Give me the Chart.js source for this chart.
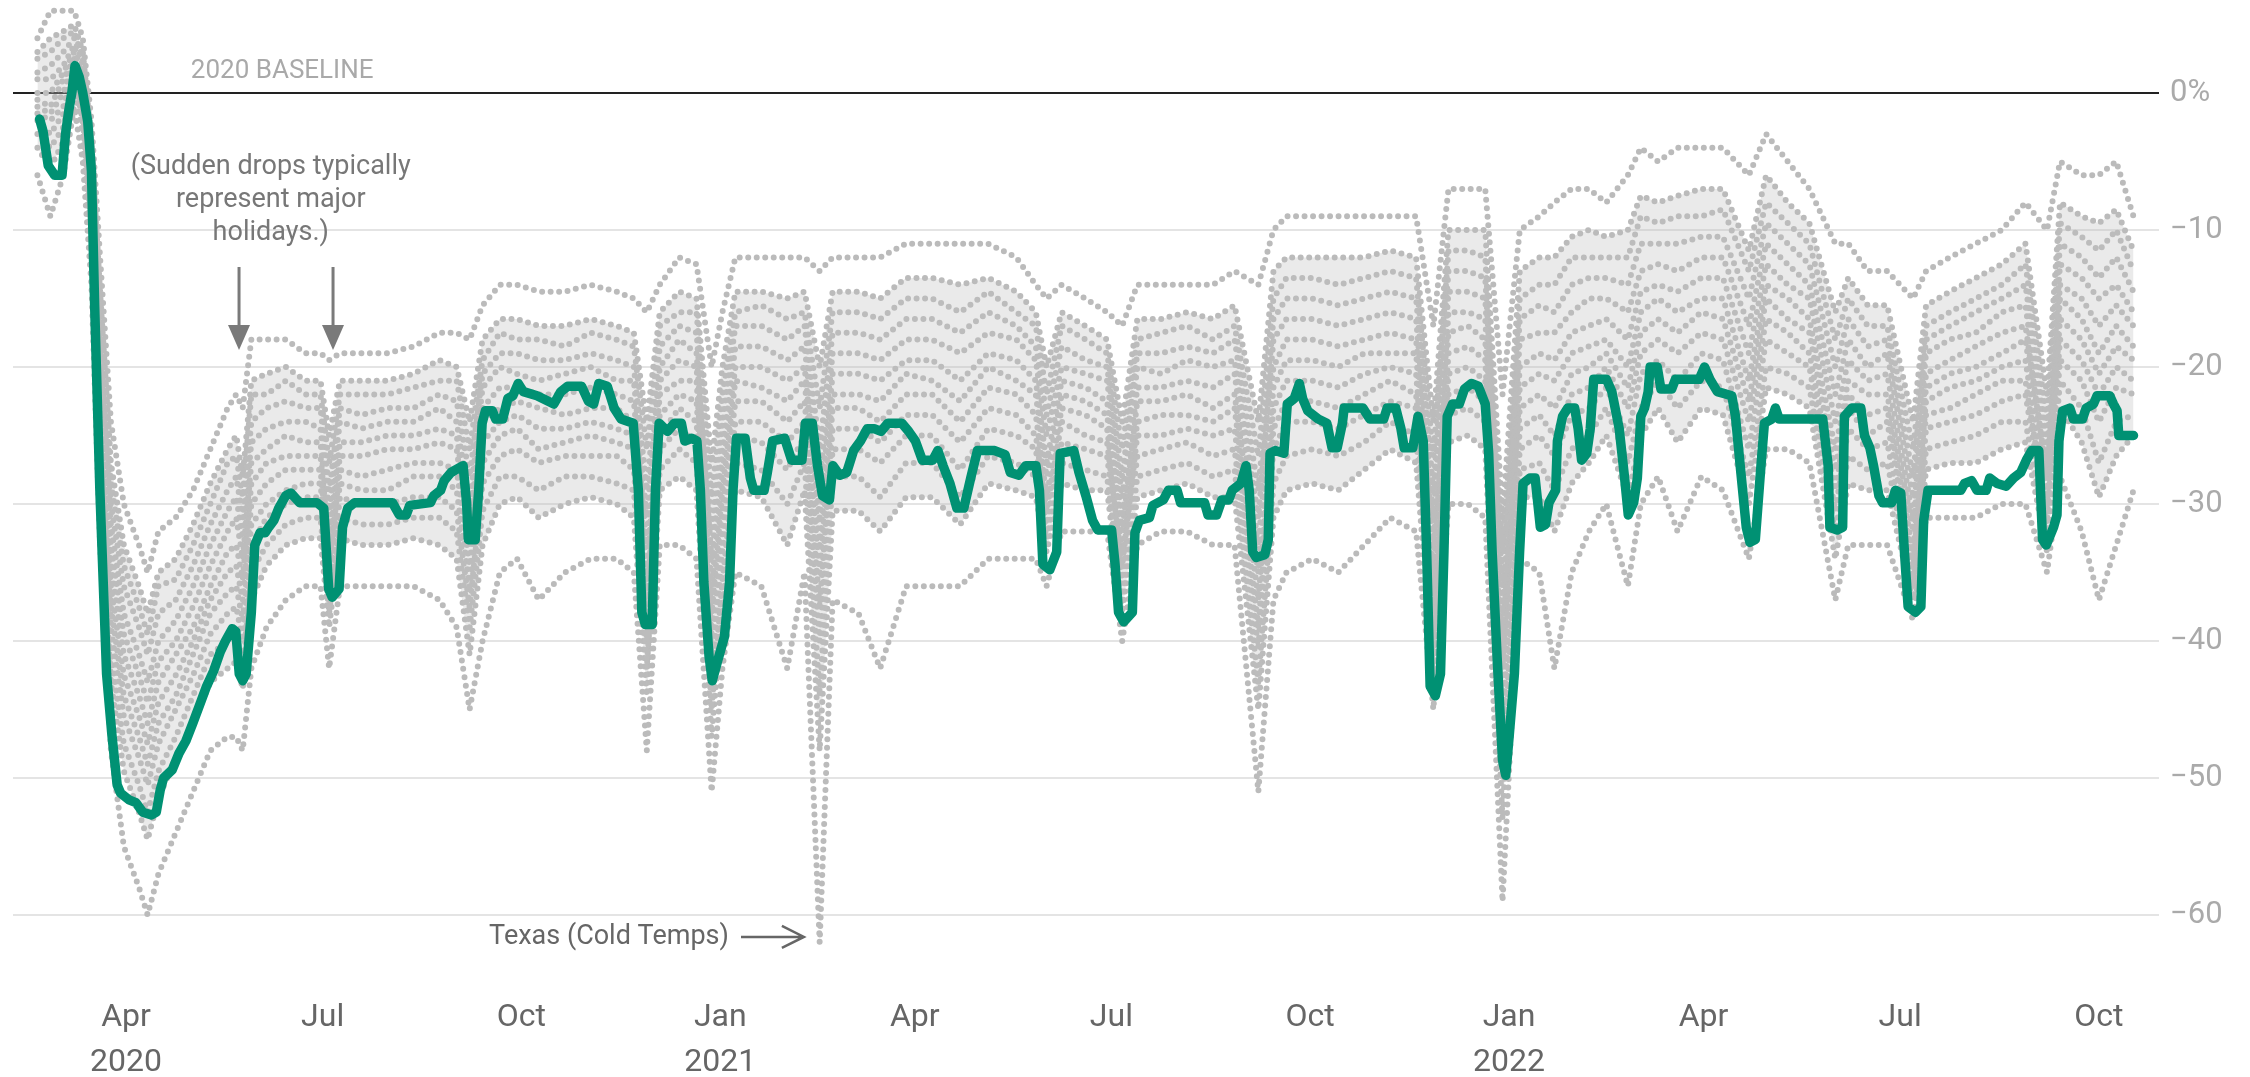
<!DOCTYPE html>
<html>
<head>
<meta charset="utf-8">
<script src="https://cdn.jsdelivr.net/npm/chart.js@4.4.1/dist/chart.umd.min.js"></script>
<style>
  html, body { margin: 0; padding: 0; background: #fff; }
  #wrap { width: 2250px; height: 1077px; position: relative; }
</style>
</head>
<body>
<div id="wrap"><canvas id="chart"></canvas></div>
<script>
// ─── DATA ───────────────────────────────────────────────────────────
// x values are days since 2020-01-01 (Apr 1 2020 = 91)
const xTickDays = [91, 182, 274, 366, 456, 547, 639, 731, 821, 912, 1004];
const xTickLabels = [['Apr', '2020'], 'Jul', 'Oct', ['Jan', '2021'], 'Apr', 'Jul', 'Oct', ['Jan', '2022'], 'Apr', 'Jul', 'Oct'];
const yTicks = [0, -10, -20, -30, -40, -50, -60];

// national line (green)
const greenDays = [51,52.6,55,58,61.4,63,64.5,66,67.4,69.3,71,73.3,75,76.5,78.9,82,84.5,86.9,88.5,92.4,95.6,98.8,102.8,105,106.8,108.4,112.4,115.5,118.7,121.9,125,128.3,131.5,134.6,137,140.2,141.8,143.4,145,146.6,149,150.6,153,155.4,157,159.4,161.7,164.9,167.3,171.3,179.3,182.5,184.8,186.4,189.6,191.2,193.6,196.8,214.3,217.5,220.7,222.3,231.9,233.4,236.6,238.2,241.4,247,248.6,249.4,252.6,254.2,255.8,257.3,260.5,262.1,265.3,267.7,270,272.5,274.9,281.2,289,292.2,295.4,301.8,305,307.4,309.8,313.7,316.9,320.1,325.7,328.1,329.7,331.3,334.5,336,337.7,341.6,344.8,348,349.6,352.8,355.2,356.8,358.4,360.8,362.3,364.7,367.9,370.3,371.9,373.5,377.5,379.9,381.5,386.3,387.8,390.2,395.8,399,403.8,405.4,408.6,411,413.3,416.5,418.1,421.3,424.5,427.7,430.9,434,437.2,440.4,443.6,450,453.2,456.3,459.5,464.3,466.7,469.1,472.3,475.5,478.7,481.9,485,493,497.8,500.2,504.2,507.4,512.1,513.7,515.3,518.5,521.7,523.3,529.6,532,535.2,538.3,540.7,547.1,548.7,550.3,552.7,556.7,557.9,559.9,564.6,566.2,571,573.4,577.4,579,590.1,591.7,595.7,598.1,601.3,602.9,606.9,609.3,610.8,612.4,614,618,619.6,620.4,622.8,626.8,628.4,631.6,634,635.5,637.9,642.7,646.7,649.1,651.5,653.9,654.7,663.4,666.6,673,674.6,678.6,681,682.5,686.5,688.9,691.3,692.9,694.5,696.9,699.3,700.9,702.4,704.9,708,710.4,713.6,716.8,720,721.6,723.2,725.6,728,729.5,731.1,733.5,735.9,737.5,740.7,743.1,745.5,747.9,749.5,752.6,753.4,755.8,758.2,761.4,763,764.6,767,768.6,770.2,776.1,778.6,782,784.5,786.2,788.7,790.4,792,793.7,795.4,796.3,799.6,801.3,806.3,808,819,821.5,824,827.4,834.1,835.8,838.3,840.8,842.5,845,847.6,849.2,852.6,854.3,856,876.2,878.7,879.5,882.9,885.4,886.2,889.6,893.8,895.5,898,899.7,902.2,903.9,908.1,909.8,912.3,914,915.7,919.1,921.6,922.9,924.9,940.1,941.8,945.1,947.6,951.8,953.5,956.9,961.1,964.5,967.8,970.4,972.9,976.2,977.9,979.6,983,984.6,985.5,987.2,990.5,992.2,996.4,998.1,1001.5,1003.1,1009,1010.7,1012.4,1013.2,1020];
const greenVals = [-1.9,-2.8,-5.3,-6,-6,-3,-1.3,0.1,2,1.2,0,-2.1,-5.7,-15.6,-29,-42.4,-46.9,-50.5,-51.1,-51.6,-51.8,-52.5,-52.7,-52.5,-50.9,-50,-49.4,-48.2,-47.3,-46,-44.7,-43.3,-42.2,-40.8,-40,-39.1,-39.3,-42.4,-42.9,-42.4,-37.9,-33,-32.1,-32.1,-31.7,-31.2,-30.3,-29.4,-29.2,-29.9,-29.9,-30.3,-36.2,-36.8,-36.2,-31.7,-30.3,-29.9,-29.9,-30.8,-30.8,-30.1,-29.9,-29.4,-29,-28.3,-27.7,-27.2,-29.9,-32.6,-32.6,-29,-24.1,-23.2,-23.2,-23.8,-23.8,-22.3,-22.1,-21.2,-21.8,-22.1,-22.7,-21.8,-21.4,-21.4,-22.5,-22.7,-21.2,-21.4,-23,-23.8,-24.1,-29,-37.9,-38.8,-38.8,-29,-24.1,-24.7,-24.1,-24.1,-25.4,-25.2,-25.4,-29,-35.7,-41.1,-42.9,-41.5,-39.7,-35.7,-29,-25.2,-25.2,-28.1,-29,-29,-27.7,-25.4,-25.2,-26.8,-26.8,-24.1,-24.1,-27.2,-29.4,-29.7,-27.2,-27.9,-27.7,-26.1,-25.4,-24.5,-24.5,-24.7,-24.1,-24.1,-24.7,-25.4,-26.8,-26.8,-26.1,-27.2,-28.5,-30.3,-30.3,-28.1,-26.1,-26.1,-26.4,-27.7,-27.9,-27.2,-27.2,-29,-34.4,-34.8,-33.5,-26.3,-26.1,-27.7,-29.4,-31.2,-31.9,-31.9,-34.4,-37.9,-38.6,-37.9,-32.1,-31.2,-31,-30.1,-29.7,-29,-29,-29.9,-29.9,-30.8,-30.8,-29.7,-29.7,-29,-28.5,-27.2,-29,-33.5,-33.9,-33.7,-32.6,-26.3,-26.1,-26.3,-22.7,-22.3,-21.2,-22.3,-23.2,-23.8,-24.1,-25.9,-25.9,-24.1,-23,-23,-23.8,-23.8,-23,-23,-24.5,-25.9,-25.9,-23.6,-25.4,-33.5,-43.3,-44,-42.4,-33.5,-23.6,-22.7,-22.7,-21.6,-21.2,-21.4,-22.7,-26.3,-33.5,-41.5,-48.7,-49.8,-46.9,-42.4,-33.5,-28.5,-28.1,-28.1,-31.7,-31.5,-29.9,-29,-25.4,-23.6,-23,-23,-24.5,-26.8,-26.3,-24.5,-20.9,-20.9,-21.8,-24.5,-28.1,-30.8,-29.9,-28.1,-23.6,-23,-21.8,-20,-20,-21.6,-21.6,-20.9,-20.9,-20,-20.9,-21.8,-22.1,-23.6,-27.7,-31.7,-32.8,-32.6,-27.2,-24.1,-23.8,-23,-23.8,-23.8,-27.2,-31.7,-31.9,-31.7,-23.6,-23,-23,-25,-25.9,-27.2,-29.4,-29.9,-29.9,-29,-29.2,-33.5,-37.5,-37.9,-37.5,-31.2,-29,-29,-28.5,-28.3,-29,-29,-28.1,-28.5,-28.7,-28.1,-27.7,-26.8,-26.1,-26.1,-32.6,-33,-31.7,-30.8,-25.4,-23.2,-23,-23.8,-23.8,-23,-22.7,-22.1,-22.1,-22.7,-23.2,-25,-25];

// state lines (grey), from the top of the spread down to the bottom
const greyDays = [50,56,62,67,71,75,79,84,90,97,101,106,114,122,130,138,142,145,149,156,165,174,181,185,190,200,212,224,236,244,250,256,264,272,282,294,306,318,326,332,338,347,355,362,367,373,385,397,405,412,418,430,440,452,464,477,490,503,512,517,524,535,545,552,559,570,582,594,604,615,622,628,640,652,664,676,688,696,703,712,720,728,736,745,752,760,768,776,786,792,800,809,820,830,842,850,860,870,882,888,897,906,918,924,935,947,959,970,980,986,996,1004,1012,1020];
const greyA = [4,6,6,6,4,-2,-12,-24,-30,-33, -35,-32,-31,-29,-26,-23,-22,-23,-18,-18, -18,-19,-19,-19.5,-19,-19,-19,-18.5,-17.5,-17.5, -18,-15.5,-14,-14,-14.5,-14.5,-14,-14.5,-15,-16, -14,-12,-12.5,-20,-16,-12,-12,-12,-12,-13, -12,-12,-12,-11,-11,-11,-11,-12,-14,-15, -14,-15,-16,-17,-14,-14,-14,-14,-13,-14, -10,-9,-9,-9,-9,-9,-9,-17,-7,-7, -7,-22,-10,-9,-8,-7,-7,-8,-6,-4, -5,-4,-4,-4,-6,-3,-5,-7,-11,-11, -13,-13,-15,-13,-12,-11,-10,-8,-10,-5, -6,-6,-5,-9];
const greyB = [3,4,4.5,5,3,-3.5,-14.5,-27,-33,-36, -38,-35,-34,-31.5,-28.5,-26,-25,-28,-21,-20.5, -20,-21,-21,-25,-21,-21,-21,-20.5,-19.5,-20, -24,-18,-16.5,-16.5,-17,-17,-16.5,-17,-17.5,-24, -16,-14.5,-15,-27,-20,-14.5,-14.5,-15,-14.5,-20, -14.5,-14.5,-15,-13.5,-13.5,-14,-13.5,-14.5,-16,-20, -16,-17,-18,-24,-16.5,-16.5,-16,-16.5,-15.5,-24, -13,-12,-12,-12,-12,-11.5,-12,-24,-10,-10, -10,-31,-13,-12,-12,-10.5,-10,-10.5,-10,-7.5, -8,-7.5,-7,-7,-11.5,-6,-8,-9.5,-16,-13.5, -15.5,-15.5,-24,-15.5,-14.5,-13.5,-12.5,-11,-22,-8, -9,-9.5,-8.5,-11.5];
const greyBC = [2.5,3,4,4.5,2.5,-4,-16,-28.5,-34.5,-37.5, -39.5,-36,-35.5,-33,-30,-27,-26.5,-29.5,-22,-22, -21,-22,-22,-27,-22,-22,-22,-21.5,-21,-21, -26,-19.5,-17.5,-18,-18,-18.5,-17.5,-18,-18.5,-26, -17,-16,-16,-29.5,-22,-16,-15.5,-16.5,-16,-23, -16,-16,-16.5,-15,-15,-16,-14.5,-16,-17,-22, -17,-18,-19,-26,-18,-17.5,-17,-18,-17,-26.5, -15,-13.5,-13.5,-14,-13.5,-13,-13.5,-26.5,-11.5,-11.5, -12,-33.5,-15,-14,-14,-12,-12,-12,-12,-9, -9.5,-9,-9,-8.5,-13,-8,-9.5,-11,-18,-15, -17,-17,-26,-17,-16,-15,-14,-12.5,-24,-9.5, -10.5,-11.5,-10,-13];
const greyC = [1.5,2,3,4,2,-5,-17,-30,-36,-39, -41,-38,-37,-34.5,-31.5,-29,-28,-31,-24,-23, -22.5,-23,-23,-29,-23,-23.5,-23,-23,-22,-22.5, -28,-20.5,-19,-19,-19.5,-19.5,-19,-19.5,-20,-29, -18.5,-17,-17.5,-32,-24,-17,-17,-18,-17,-26, -17.5,-17.5,-18,-16.5,-16.5,-17.5,-16,-17,-18.5,-23.5, -18.5,-19.5,-20,-28,-19,-19,-18.5,-19,-18,-29, -16.5,-15,-15,-15.5,-15,-14.5,-15,-29,-13,-13, -13.5,-36,-16.5,-15.5,-16,-14,-13.5,-13.5,-14,-11, -11,-11,-10.5,-10.5,-15,-9.5,-11,-12.5,-20,-16.5, -18.5,-18,-28,-18,-17,-16,-15,-14,-25.5,-11, -12,-13.5,-12,-14.5];
const greyCD = [1,1,2,3.5,1,-6,-18.5,-31.5,-38,-41, -43,-40,-38.5,-36,-33,-30.5,-29.5,-32.5,-25.5,-24.5, -24,-24,-24.5,-30.5,-24,-24.5,-24,-24,-23,-24, -30,-21.5,-20,-20.5,-21,-20.5,-20,-21,-21,-31, -20,-18,-19,-34,-26,-18.5,-18.5,-19.5,-18.5,-28.5, -19,-19,-19.5,-18,-18,-19,-17.5,-18,-19.5,-25, -20,-20.5,-21,-29.5,-20,-20.5,-19.5,-20,-19.5,-31, -18,-16.5,-16.5,-17,-16.5,-16,-16.5,-31,-14.5,-14.5, -15,-38,-18,-17.5,-17.5,-16,-15,-15,-16,-13, -12.5,-13,-12,-12,-17,-11,-12.5,-14,-22,-18, -20,-19,-29.5,-19,-18,-17.5,-16,-15.5,-27,-12.5, -13.5,-15,-14,-16];
const greyD = [0,0,1.5,3,0.5,-6.5,-20,-33,-39.5,-42.5, -44.5,-41.5,-40,-37.5,-34.5,-32,-31,-34,-27,-26, -25,-25.5,-25.5,-32,-25.5,-25.5,-25,-25,-24.5,-25, -31.5,-23,-21.5,-21.5,-22,-22,-21.5,-22,-22.5,-33, -21,-19.5,-20,-36,-27.5,-20,-20,-21,-20,-31, -20.5,-20.5,-21,-19.5,-19.5,-21,-19,-19.5,-21,-27, -21,-21.5,-22.5,-31,-21.5,-21.5,-21,-21.5,-20.5,-33, -20,-18,-18,-18.5,-18,-17.5,-18,-33,-16,-16, -16.5,-40,-20,-19,-19.5,-17.5,-17,-16.5,-18,-14.5, -14,-14.5,-13.5,-13.5,-19,-12.5,-14,-15,-24,-19.5, -21,-20.5,-31,-20.5,-19.5,-18.5,-17.5,-17,-28,-14, -15,-17,-15.5,-17];
const greyDE = [-0.5,-1,1,2.5,0,-7,-21,-34.5,-41,-44, -46,-43,-41,-39,-36,-33.5,-33,-35.5,-28.5,-27, -26.5,-26.5,-26.5,-33,-26.5,-26.5,-26,-26,-25.5,-26, -33,-24,-23,-22.5,-23,-23.5,-23,-23,-24,-35, -22,-21,-21,-38,-29,-21,-21.5,-22.5,-21,-33, -22,-22,-22.5,-20.5,-21,-22.5,-20,-21,-22,-28, -22,-22.5,-23.5,-32,-22.5,-22.5,-22,-23,-22,-35, -21.5,-19.5,-19.5,-20,-19,-19,-19,-35,-17.5,-17, -18,-42,-21.5,-20.5,-21,-19,-18.5,-18,-20,-16, -15,-16,-15,-15,-21,-14,-15,-16.5,-26,-21, -22,-22,-32,-21.5,-20.5,-20,-19,-18,-29,-15, -16.5,-19,-17,-18.5];
const greyE = [-1,-1.5,0,2.5,-0.5,-8,-22.5,-36,-42.5,-45.5, -47.5,-44.5,-42.5,-40,-37,-35,-34.5,-37,-30,-28.5, -27.5,-27.5,-27.5,-34.5,-27.5,-28,-27.5,-27,-27,-27.5, -34.5,-25.5,-24,-23.5,-24.5,-24.5,-24,-24.5,-25,-37, -23.5,-22,-22.5,-39.5,-30.5,-22.5,-22.5,-24,-22.5,-35, -23,-23,-24,-22,-22,-24,-21.5,-22,-23.5,-29.5, -23,-23.5,-24.5,-33.5,-24,-23.5,-23.5,-24,-23,-37, -23,-21,-21,-21.5,-20.5,-20,-20.5,-36.5,-19,-18.5, -19.5,-44,-23,-22,-23,-20.5,-20,-19,-21.5,-17.5, -16.5,-17.5,-16,-16.5,-22.5,-15,-16.5,-17.5,-27.5,-22, -23.5,-23,-33.5,-22.5,-21.5,-21,-20,-19.5,-30,-16.5, -18,-20.5,-18.5,-19.5];
const greyEF = [-1.5,-2,-1,2,-1,-9,-24,-37.5,-44,-47, -49,-46,-44,-41,-38,-36.5,-36,-38.5,-31.5,-30, -29,-28.5,-28.5,-35.5,-28.5,-29,-29,-28,-28,-29, -36,-27,-25,-24.5,-26,-25.5,-25,-25.5,-26,-38.5, -25,-23,-24,-41,-32,-24,-24,-25.5,-24,-37.5, -24.5,-24.5,-25.5,-23.5,-23.5,-25.5,-23,-23.5,-25,-30.5, -24,-25,-25.5,-34.5,-25,-25,-24.5,-25,-24.5,-39, -24.5,-22.5,-22.5,-23,-22,-21,-22,-38,-20.5,-20, -21,-46,-24.5,-23.5,-25,-22,-21.5,-20,-23,-19, -18,-19,-17.5,-18,-24,-16.5,-17.5,-19,-29,-23, -25,-24,-34.5,-23.5,-23,-22,-21,-21,-31,-18, -19.5,-22,-20,-21];
const greyF = [-2,-3,-1.5,1.5,-1.5,-9.5,-25,-39,-45.5,-48.5, -50.5,-47.5,-45,-42.5,-39.5,-38,-37.5,-40,-33,-31, -30,-29.5,-29.5,-36.5,-29.5,-30,-30,-29.5,-29.5,-30.5, -37.5,-28.5,-26.5,-26,-27,-26.5,-26.5,-26.5,-27.5,-40, -26,-24.5,-25.5,-43,-33.5,-25,-25.5,-27.5,-25,-40, -26,-26,-27,-25,-25,-27.5,-24.5,-25,-26,-31.5, -25.5,-26,-26.5,-35.5,-26.5,-26,-25.5,-26.5,-26,-40.5, -26,-24,-24,-24.5,-23.5,-22.5,-23,-39.5,-22,-21.5, -22.5,-48,-26,-25,-26.5,-23.5,-23,-21.5,-25,-20.5, -19.5,-21,-19,-19.5,-26,-18,-19,-20,-30.5,-24.5, -26,-25.5,-35.5,-24.5,-24,-23.5,-22.5,-22,-31.5,-19.5, -21,-24,-21.5,-22];
const greyFG = [-3,-4,-2.5,1,-2,-10.5,-27,-41,-47.5,-50.5, -52.5,-49.5,-47,-44,-41,-40,-39.5,-42,-35,-33, -31.5,-31,-31,-38,-31,-31.5,-31.5,-31,-31,-32, -39,-30.5,-28,-28,-29,-28,-28,-28.5,-29,-42, -27.5,-26,-27,-45,-35.5,-27,-27.5,-30,-27,-44, -28,-28,-29.5,-27,-27,-29.5,-26.5,-27,-28,-32.5, -27,-27.5,-28,-37,-28,-27.5,-27,-28,-27.5,-43, -28.5,-26.5,-26,-26.5,-25.5,-24,-25,-41,-23.5,-23, -24,-50,-27.5,-27,-29,-26,-25,-23,-27,-23, -21,-23,-21,-21.5,-28,-20,-20.5,-21.5,-32,-26.5, -27.5,-27,-36,-26,-25.5,-25,-24,-24,-32.5,-21, -23,-27,-24,-23.5];
const greyG = [-4,-5.5,-3.5,0.5,-3,-11.5,-28.5,-43,-49.5,-52.5, -54.5,-51.5,-48.5,-46,-43,-42,-41.5,-43.5,-37,-34.5, -33,-32.5,-32.5,-39,-32.5,-33,-33,-32.5,-33,-34, -41,-33,-30,-29.5,-31,-30,-29.5,-30,-31,-44, -29,-28,-29,-47,-37.5,-29,-29.5,-33,-29,-48, -30.5,-30.5,-32,-29.5,-29.5,-31.5,-28.5,-29,-29.5,-33.5, -28.5,-29,-29,-38,-29.5,-29,-28.5,-29.5,-29.5,-45, -31,-29,-28.5,-29,-27.5,-26,-27,-42.5,-25.5,-25, -26,-53,-29.5,-29.5,-32,-28.5,-27,-25,-29.5,-25, -23,-25.5,-23,-23.5,-30,-21.5,-22,-23,-34,-28.5, -29,-29,-37,-27.5,-27,-27,-26,-25.5,-33.5,-23, -25.5,-29.5,-26.5,-25];
const greyH = [-6,-9,-6,-1,-5,-14,-33,-48,-55,-58, -60,-57,-54,-51,-48,-47,-47,-48,-42,-39, -37,-36,-36,-42,-36,-36,-36,-36,-37,-39, -45,-40,-35,-34,-37,-35,-34,-34,-35,-48, -33,-33,-34,-51,-42,-35,-36,-42,-35,-62, -37,-38,-42,-36,-36,-36,-34,-34,-34,-36, -32,-32,-32,-40,-33,-32,-32,-33,-33,-51, -37,-35,-34,-35,-33,-31,-32,-45,-30,-30, -31,-59,-34,-35,-42,-35,-32,-30,-36,-30, -28,-32,-28,-29,-34,-26,-26,-27,-37,-33, -33,-33,-38.5,-31,-31,-31,-30,-30,-35,-28, -32,-37,-33,-29];
const greySeries = [greyA, greyB, greyBC, greyC, greyCD, greyD, greyDE, greyE, greyEF, greyF, greyFG, greyG, greyH];

// ─── CHART ──────────────────────────────────────────────────────────
const GREEN = '#009173';
const GREY = '#bbbbbb';
const GREY_HAZE = 'rgba(190,190,190,0.32)';

const toPoints = (days, vals) => days.map((d, i) => ({ x: d, y: vals[i] }));

const notesPlugin = {
  id: 'notes',
  afterDraw(chart) {
    const { ctx, scales: { x, y } } = chart;
    ctx.save();
    ctx.textBaseline = 'middle';

    // baseline label
    ctx.font = '26px Roboto';
    ctx.fillStyle = '#a9a9a9';
    ctx.textAlign = 'left';
    ctx.fillText('2020 BASELINE', x.getPixelForValue(121), y.getPixelForValue(1.6));

    // holiday note
    ctx.font = '27px Roboto';
    ctx.fillStyle = '#777';
    ctx.textAlign = 'center';
    const nx = x.getPixelForValue(158);
    const ny = y.getPixelForValue(-5.4);
    ['(Sudden drops typically', 'represent major', 'holidays.)'].forEach((t, i) => ctx.fillText(t, nx, ny + i * 33));

    // down arrows
    ctx.strokeStyle = '#7a7a7a';
    ctx.fillStyle = '#7a7a7a';
    ctx.lineWidth = 3;
    [143.3, 186.8].forEach(d => {
      const ax = x.getPixelForValue(d);
      const y0 = y.getPixelForValue(-12.7);
      const y1 = y.getPixelForValue(-18.76);
      ctx.beginPath();
      ctx.moveTo(ax, y0);
      ctx.lineTo(ax, y1 - 20);
      ctx.stroke();
      ctx.beginPath();
      ctx.moveTo(ax - 11, y1 - 25);
      ctx.lineTo(ax + 11, y1 - 25);
      ctx.lineTo(ax, y1);
      ctx.closePath();
      ctx.fill();
    });

    // Texas note
    ctx.font = '27px Roboto';
    ctx.fillStyle = '#666';
    ctx.textAlign = 'right';
    const ty = y.getPixelForValue(-61.6);
    ctx.fillText('Texas (Cold Temps)', x.getPixelForValue(370), ty);
    const tx0 = x.getPixelForValue(375.6);
    const tx1 = x.getPixelForValue(404.7);
    ctx.strokeStyle = '#666';
    ctx.lineWidth = 2.5;
    ctx.beginPath();
    ctx.moveTo(tx0, ty);
    ctx.lineTo(tx1, ty);
    ctx.moveTo(tx1 - 22, ty - 11);
    ctx.lineTo(tx1, ty);
    ctx.lineTo(tx1 - 22, ty + 11);
    ctx.stroke();
    ctx.restore();
  }
};

function draw() {
  Chart.defaults.font.family = 'Roboto';

  // index 0 is the green line, grey lines follow from index 1
  const hazeFrom = greySeries.indexOf(greyB) + 1;
  const hazeTo = greySeries.indexOf(greyG) + 1;

  const datasets = [{
    data: toPoints(greenDays, greenVals),
    borderColor: GREEN,
    borderWidth: 9.5,
    borderJoinStyle: 'round',
    borderCapStyle: 'round',
    pointRadius: 0,
    tension: 0,
    fill: false,
    order: 0
  }].concat(greySeries.map((vals, i) => ({
    data: toPoints(greyDays, vals),
    borderColor: GREY,
    borderWidth: 6,
    borderDash: [0, 8.5],
    borderCapStyle: 'round',
    pointRadius: 0,
    tension: 0,
    fill: i + 1 === hazeFrom ? hazeTo : false,
    backgroundColor: GREY_HAZE,
    order: 1
  })));

  new Chart(document.getElementById('chart'), {
    type: 'line',
    data: { datasets },
    options: {
      responsive: true,
      maintainAspectRatio: false,
      animation: false,
      layout: { padding: { left: 13, right: 0, top: 0, bottom: 0 } },
      plugins: { legend: { display: false }, tooltip: { enabled: false } },
      scales: {
        x: {
          type: 'linear',
          min: 38.7,
          max: 1031.8,
          grid: { display: false, drawTicks: false },
          border: { display: false },
          afterBuildTicks: s => { s.ticks = xTickDays.map(v => ({ value: v })); },
          afterFit: s => { s.height = 112; s.paddingLeft = 0; s.paddingRight = 0; },
          ticks: {
            autoSkip: false,
            maxRotation: 0,
            padding: 31,
            color: '#666',
            font: { size: 32, lineHeight: 1.4 },
            callback: (v, i) => xTickLabels[i]
          }
        },
        y: {
          position: 'right',
          min: -63.65,
          max: 6.79,
          grid: {
            drawTicks: false,
            color: c => (c.tick && c.tick.value === 0 ? '#222' : '#e4e4e4'),
            lineWidth: 2
          },
          border: { display: false },
          afterBuildTicks: s => { s.ticks = yTicks.map(v => ({ value: v })); },
          afterFit: s => { s.width = 91; s.paddingTop = 0; s.paddingBottom = 0; },
          ticks: {
            padding: 11,
            color: '#aaa',
            font: { size: 31 },
            callback: v => (v === 0 ? '0%' : '\u2212' + Math.abs(v))
          }
        }
      }
    },
    plugins: [notesPlugin]
  });
}

if (document.fonts && document.fonts.load) {
  document.fonts.load('27px Roboto').then(draw, draw);
} else {
  draw();
}
</script>
</body>
</html>
